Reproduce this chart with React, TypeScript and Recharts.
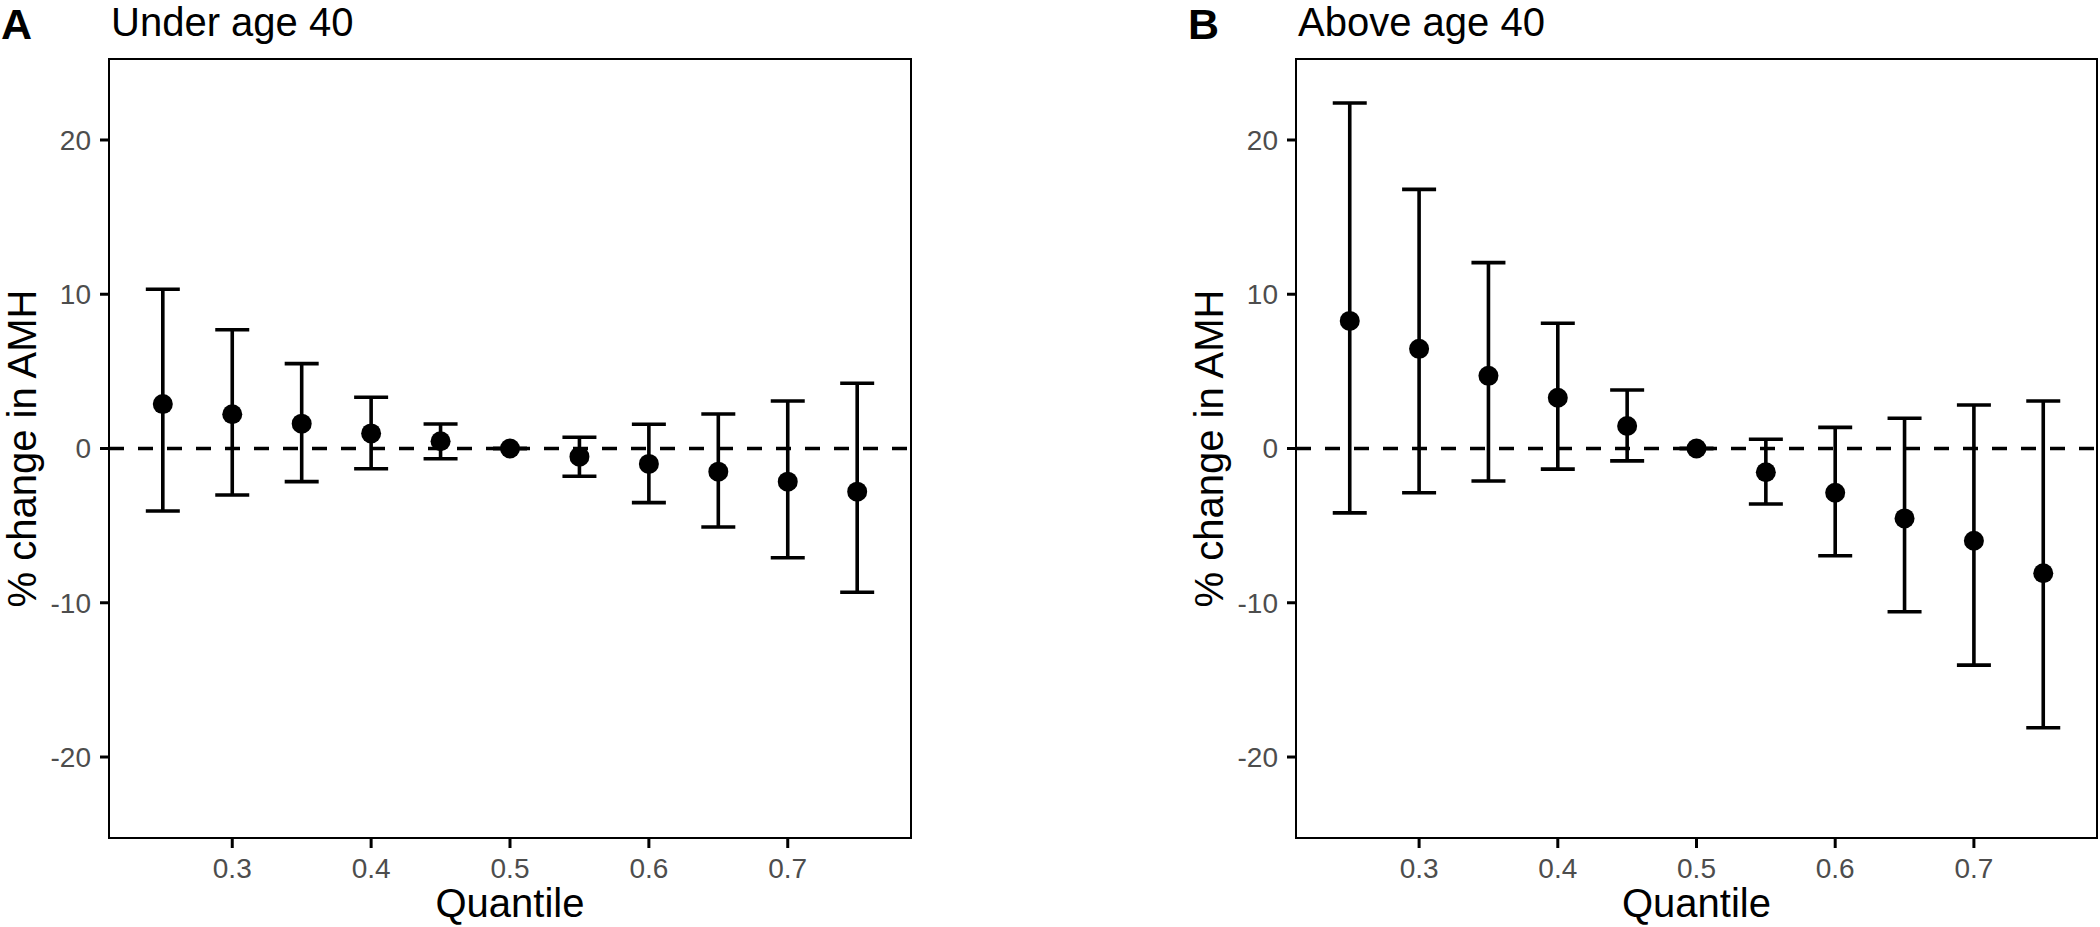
import { ComposedChart, ErrorBar, ReferenceArea, ReferenceLine, Scatter, XAxis, YAxis } from "recharts";

const quantiles = [0.25, 0.3, 0.35, 0.4, 0.45, 0.5, 0.55, 0.6, 0.65, 0.7, 0.75];

// under age 40
const underEst = [2.88, 2.22, 1.61, 0.98, 0.47, 0, -0.53, -1.0, -1.5, -2.15, -2.8];
const underLow = [-4.05, -3.01, -2.15, -1.31, -0.66, 0, -1.8, -3.51, -5.09, -7.08, -9.32];
const underHigh = [10.32, 7.7, 5.5, 3.32, 1.59, 0, 0.73, 1.57, 2.24, 3.08, 4.23];

// above age 40
const aboveEst = [8.27, 6.46, 4.71, 3.29, 1.46, 0, -1.54, -2.87, -4.53, -5.98, -8.09];
const aboveLow = [-4.17, -2.87, -2.11, -1.34, -0.8, 0, -3.6, -6.95, -10.58, -14.04, -18.1];
const aboveHigh = [22.4, 16.8, 12.05, 8.12, 3.79, 0, 0.6, 1.37, 1.96, 2.82, 3.08];

const xTicks = [0.3, 0.4, 0.5, 0.6, 0.7];
const yTicks = [-20, -10, 0, 10, 20];
const xDomain: [number, number] = [0.21125, 0.78875];
const yDomain: [number, number] = [-25.25, 25.25];

const FONT = "'Liberation Sans', Arial, Helvetica, sans-serif";

function buildRows(est: number[], low: number[], high: number[]) {
  return quantiles.map((q, i) => ({
    q,
    est: est[i],
    err: [est[i] - low[i], high[i] - est[i]],
  }));
}

type PanelProps = {
  tag: string;
  title: string;
  est: number[];
  low: number[];
  high: number[];
  left: number;
  width: number;
  marginRight: number;
};

function Panel({ tag, title, est, low, high, left, width, marginRight }: PanelProps) {
  const rows = buildRows(est, low, high);
  const plotLeft = 109;
  const plotRight = width - marginRight;
  return (
    <div style={{ position: "absolute", left, top: 0, width, height: 927 }}>
      <ComposedChart width={width} height={927} margin={{ top: 59, right: marginRight, left: 9, bottom: 29 }}>
        <XAxis
          type="number"
          dataKey="q"
          domain={xDomain}
          ticks={xTicks}
          allowDataOverflow
          height={60}
          tickFormatter={(v: number) => v.toFixed(1)}
          tick={{ fill: "#4D4D4D", fontSize: 28, fontFamily: FONT }}
          tickSize={10}
          tickMargin={10}
          tickLine={{ stroke: "#000", strokeWidth: 3 }}
          axisLine={{ stroke: "#000", strokeWidth: 2 }}
        />
        <YAxis
          type="number"
          domain={yDomain}
          ticks={yTicks}
          allowDataOverflow
          width={100}
          tick={{ fill: "#4D4D4D", fontSize: 28, fontFamily: FONT }}
          tickSize={9}
          tickMargin={9}
          tickLine={{ stroke: "#000", strokeWidth: 3 }}
          axisLine={{ stroke: "#000", strokeWidth: 2 }}
        />
        <ReferenceLine y={0} stroke="#000" strokeWidth={3.4} strokeDasharray="15 14" />
        <Scatter
          data={rows}
          dataKey="est"
          isAnimationActive={false}
          shape={(p: any) => <circle cx={p.cx} cy={p.cy} r={10} fill="#000" />}
        >
          <ErrorBar dataKey="err" direction="y" width={17} stroke="#000" strokeWidth={3.6} />
        </Scatter>
        <ReferenceArea
          x1={xDomain[0]}
          x2={xDomain[1]}
          y1={yDomain[0]}
          y2={yDomain[1]}
          fill="none"
          fillOpacity={0}
          stroke="#000"
          strokeWidth={2}
          ifOverflow="visible"
        />
      </ComposedChart>
      <svg
        width={width}
        height={927}
        style={{ position: "absolute", left: 0, top: 0, pointerEvents: "none" }}
        fontFamily={FONT}
      >
        <text x={1} y={39} fontSize={43} fontWeight="bold" fill="#000">
          {tag}
        </text>
        <text x={111} y={36} fontSize={40} fill="#000">
          {title}
        </text>
        <text
          transform={`translate(36, ${(59 + 838) / 2}) rotate(-90)`}
          textAnchor="middle"
          fontSize={40}
          fill="#000"
        >
          % change in AMH
        </text>
        <text x={(plotLeft + plotRight) / 2} y={917} textAnchor="middle" fontSize={40} fill="#000">
          Quantile
        </text>
      </svg>
    </div>
  );
}

export default function App() {
  return (
    <div
      style={{
        position: "absolute",
        left: 0,
        top: 0,
        width: 2100,
        height: 927,
        overflow: "hidden",
        background: "#fff",
      }}
    >
      <Panel tag="A" title="Under age 40" est={underEst} low={underLow} high={underHigh} left={0} width={920} marginRight={9} />
      <Panel tag="B" title="Above age 40" est={aboveEst} low={aboveLow} high={aboveHigh} left={1187} width={913} marginRight={3} />
    </div>
  );
}
